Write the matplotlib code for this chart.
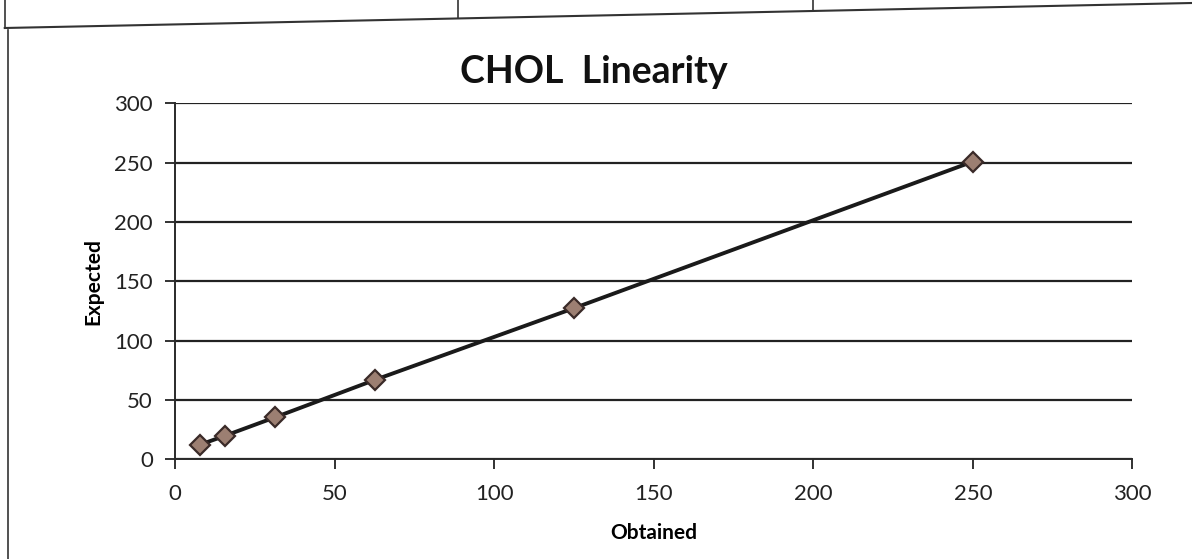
import matplotlib
matplotlib.use("Agg")
import matplotlib.pyplot as plt
from matplotlib.lines import Line2D

obtained = [7.8, 15.6, 31.25, 62.5, 125, 250]
expected = [12.5, 20, 35.5, 67, 127.5, 251]
xticks = [0, 50, 100, 150, 200, 250, 300]
yticks = [0, 50, 100, 150, 200, 250, 300]

plt.rcParams['font.family'] = ['Lato', 'DejaVu Sans']

fig = plt.figure(figsize=(11.92, 5.59), dpi=100)
ax = fig.add_axes([0.147, 0.178, 0.803, 0.637])

ax.plot(obtained, expected, color='#1a1a1a', lw=2.8, zorder=3)
ax.plot(obtained, expected, linestyle='none', marker='D', markersize=10,
        markerfacecolor='#9c7f72', markeredgecolor='#3a2a28', markeredgewidth=1.6, zorder=4)

ax.set_xlim(0, 300)
ax.set_ylim(0, 300)
ax.set_xticks(xticks)
ax.set_yticks(yticks)
ax.tick_params(axis='both', labelsize=16, colors='#222222', length=7, width=1.3, direction='out')
ax.tick_params(axis='x', pad=11)
ax.tick_params(axis='y', pad=9)
ax.yaxis.grid(True, color='#222222', lw=1.6)
ax.set_axisbelow(True)
for s in ['top', 'right']:
    ax.spines[s].set_visible(False)
for s in ['left', 'bottom']:
    ax.spines[s].set_color('#2a2a2a')
    ax.spines[s].set_linewidth(1.4)

ax.set_xlabel('Obtained', fontsize=15, fontweight='bold', labelpad=13)
ax.set_ylabel('Expected', fontsize=15, fontweight='bold', labelpad=8)
fig.text(0.498, 0.872, 'CHOL  Linearity', fontsize=27, fontweight='bold',
         ha='center', va='center', color='#111111')

# scanned page frame lines
fig.add_artist(Line2D([0.004, 1.0], [1 - 28/559, 1 - 3/559], color='#333333', lw=1.5))
fig.add_artist(Line2D([0.004, 0.004], [1.0, 1 - 28/559], color='#333333', lw=1.2))
fig.add_artist(Line2D([458/1192, 458/1192], [1.0, 1 - 18/559], color='#333333', lw=1.2))
fig.add_artist(Line2D([813/1192, 813/1192], [1.0, 1 - 10/559], color='#333333', lw=1.2))
fig.add_artist(Line2D([8/1192, 8/1192], [0.0, 1 - 30/559], color='#333333', lw=1.2))

fig.savefig('out.png', dpi=100, facecolor='white')
